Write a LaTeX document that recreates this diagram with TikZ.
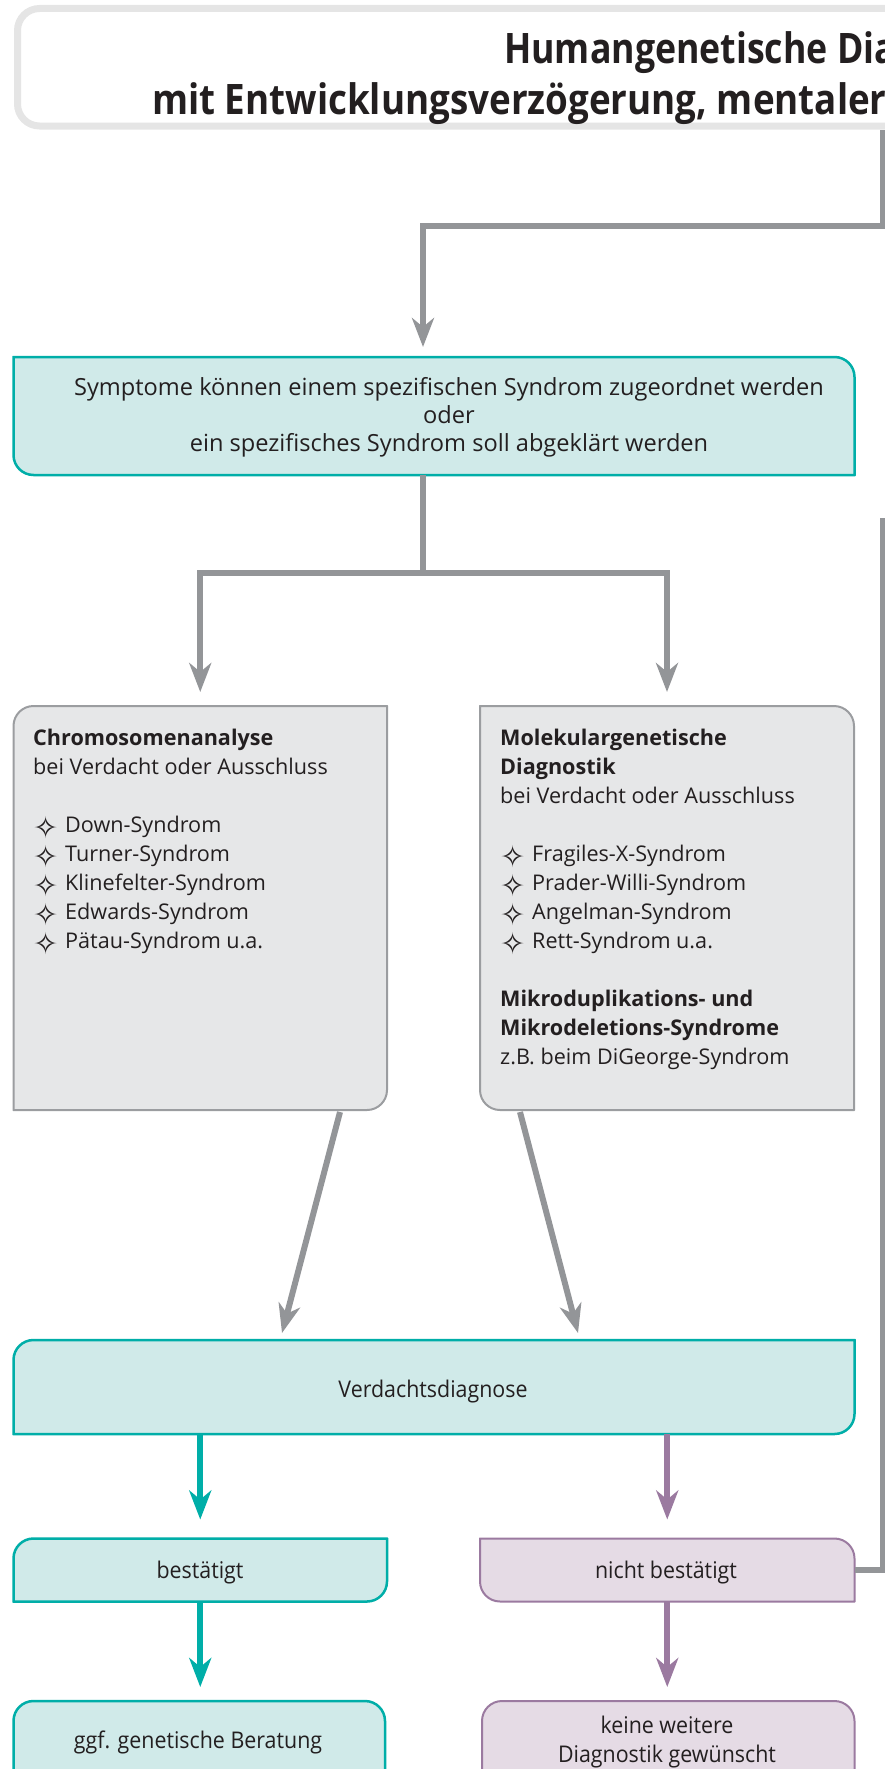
\documentclass[tikz,border=0pt]{standalone}
\usepackage{fontspec}
\setmainfont{Open Sans}
\newfontfamily\condfont[FakeStretch=0.93]{Open Sans}
\newfontfamily\titlefont[FakeStretch=0.875]{Open Sans}
\newfontfamily\titlefonta[FakeStretch=0.85]{Open Sans}
\newfontfamily\symfont{DejaVu Sans}
\usetikzlibrary{arrows.meta,calc,backgrounds}
\definecolor{tealline}{RGB}{0,174,168}
\definecolor{tealfill}{RGB}{208,234,233}
\definecolor{greyline}{RGB}{155,157,160}
\definecolor{greyfill}{RGB}{230,231,232}
\definecolor{purpline}{RGB}{155,122,160}
\definecolor{purpfill}{RGB}{229,219,229}
\definecolor{connc}{RGB}{147,149,152}
\definecolor{titleframe}{RGB}{229,229,229}
\definecolor{txtc}{RGB}{35,31,32}
\newcommand\starbul{\makebox[32pt][l]{\smash{\raisebox{-6pt}{\symfont\fontsize{30}{30}\selectfont ✧}}}}
\newcommand\boxpath[6]{%
  \path[#2] ($(#1.north west)+(0,-#3)$) arc[start angle=180,end angle=90,radius=#3]
   -- ($(#1.north east)+(-#4,0)$) arc[start angle=90,end angle=0,radius=#4]
   -- ($(#1.south east)+(0,#5)$) arc[start angle=0,end angle=-90,radius=#5]
   -- ($(#1.south west)+(#6,0)$) arc[start angle=270,end angle=180,radius=#6]
   -- cycle;}
\tikzset{
  boxnode/.style={rectangle, inner sep=0pt, outer sep=0pt, draw=none},
  titlebox/.style={fill=white, draw=titleframe, line width=7pt},
  tealbox/.style={fill=tealfill, draw=tealline, line width=2.5pt},
  greybox/.style={fill=greyfill, draw=greyline, line width=2pt},
  purpbox/.style={fill=purpfill, draw=purpline, line width=2pt},
  tipstyle/.tip={Stealth[length=29pt,width=22pt,inset=9pt]},
  conn/.style={draw=connc, line width=6pt, -tipstyle},
  connline/.style={draw=connc, line width=6pt},
  tealarr/.style={draw=tealline, line width=6pt, -tipstyle},
  purparr/.style={draw=purpline, line width=6pt, -tipstyle},
  titletxt/.style={inner sep=0pt, text=txtc, font={\titlefont\bfseries\fontsize{42}{50}\selectfont}},
  titletxta/.style={inner sep=0pt, text=txtc, font={\titlefonta\bfseries\fontsize{42}{50}\selectfont}},
  bodytxt/.style={inner sep=0pt, text=txtc, font={\fontsize{21.6}{29}\selectfont}},
  symtxt/.style={inner sep=0pt, text=txtc, font={\fontsize{23.6}{27.5}\selectfont}},
  condtxt/.style={inner sep=0pt, text=txtc, font={\condfont\fontsize{23}{29}\selectfont}}
}
\begin{document}
\begin{tikzpicture}[x=1pt,y=1pt]
\useasboundingbox (0,0) rectangle (885,-1769);
% box nodes
\node[boxnode, minimum width=1082.5pt, minimum height=117.5pt] (title) at (558.75,-67.25) {};
\node[boxnode, minimum width=841pt, minimum height=118pt] (sym) at (434,-416) {};
\node[boxnode, minimum width=373.5pt, minimum height=404pt] (chr) at (200.25,-908) {};
\node[boxnode, minimum width=374pt, minimum height=404pt] (mol) at (667,-908) {};
\node[boxnode, minimum width=841pt, minimum height=94pt] (ver) at (434,-1387) {};
\node[boxnode, minimum width=373.5pt, minimum height=63pt] (bes) at (200.25,-1570) {};
\node[boxnode, minimum width=374.5pt, minimum height=63pt] (nbe) at (667.25,-1570) {};
\node[boxnode, minimum width=371.5pt, minimum height=149pt] (ggf) at (199.25,-1775.5) {};
\node[boxnode, minimum width=372.5pt, minimum height=149pt] (kei) at (668.25,-1775.5) {};
\begin{scope}[on background layer]
  \boxpath{title}{titlebox}{22}{0.01}{0.01}{22}
  \boxpath{sym}{tealbox}{0.01}{20}{0.01}{20}
  \boxpath{chr}{greybox}{20}{0.01}{20}{0.01}
  \boxpath{mol}{greybox}{0.01}{20}{0.01}{20}
  \boxpath{ver}{tealbox}{20}{0.01}{20}{0.01}
  \boxpath{bes}{tealbox}{20}{0.01}{20}{0.01}
  \boxpath{nbe}{purpbox}{0.01}{20}{0.01}{20}
  \boxpath{ggf}{tealbox}{20}{20}{20}{20}
  \boxpath{kei}{purpbox}{20}{20}{20}{20}
\end{scope}
% title text
\node[titletxta, anchor=base west] (t1) at (504,-63.5) {Humangenetische Dia};
\node[titletxt, anchor=base west] (t2) at (152,-114) {mit Entwicklungsverzögerung, mentaler};
% symptom text
\node[symtxt, anchor=base] (s1) at (449,-395) {Symptome können einem spezifischen Syndrom zugeordnet werden};
\node[symtxt, anchor=base] (s2) at (449,-423) {oder};
\node[symtxt, anchor=base] (s3) at (449,-451) {ein spezifisches Syndrom soll abgeklärt werden};
% grey box texts
\node[bodytxt, align=left, anchor=north west] (chrtxt) at (33,-728.6) {\textbf{Chromosomenanalyse}\\bei Verdacht oder Ausschluss\\[29pt]\starbul Down-Syndrom\\\starbul Turner-Syndrom\\\starbul Klinefelter-Syndrom\\\starbul Edwards-Syndrom\\\starbul Pätau-Syndrom u.a.};
\node[bodytxt, align=left, anchor=north west] (moltxt) at (500,-728.6) {\textbf{Molekulargenetische}\\\textbf{Diagnostik}\\bei Verdacht oder Ausschluss\\[29pt]\starbul Fragiles-X-Syndrom\\\starbul Prader-Willi-Syndrom\\\starbul Angelman-Syndrom\\\starbul Rett-Syndrom u.a.\\[29pt]\textbf{Mikroduplikations- und}\\\textbf{Mikrodeletions-Syndrome}\\z.B. beim DiGeorge-Syndrom};
% condensed texts
\node[condtxt, anchor=base] (vtxt) at (433,-1397) {Verdachtsdiagnose};
\node[condtxt, anchor=base] (btxt) at (200,-1578) {bestätigt};
\node[condtxt, anchor=base] (ntxt) at (666,-1578) {nicht bestätigt};
\node[condtxt, anchor=base] (gtxt) at (198,-1748) {ggf. genetische Beratung};
\node[condtxt, anchor=base] (k1) at (667,-1733) {keine weitere};
\node[condtxt, anchor=base] (k2) at (667,-1762) {Diagnostik gewünscht};
% connectors
\coordinate (tc) at ($(title.south west)+(865.5,-4)$);
\draw[conn, shorten >=10pt] (tc) -- ($(tc)+(0,-96)$) -| ($(sym.north)+(-11,0)$);
\coordinate (split) at ($(sym.south)+(-11,-98)$);
\draw[connline] ($(sym.south)+(-11,0)$) -- (split);
\draw[conn, shorten >=14pt] (split) -| (chr.north);
\draw[conn, shorten >=14pt] (split) -| (mol.north);
\draw[conn] ($(chr.south west)+(326.5,-2)$) -- ($(ver.north west)+(268.5,7)$);
\draw[conn] ($(mol.south west)+(40,-2)$) -- ($(ver.north west)+(564.5,7)$);
\draw[tealarr, shorten >=19pt] (ver.south -| bes.north) -- (bes.north);
\draw[tealarr, shorten >=14pt] (bes.south) -- (bes.south |- ggf.north);
\draw[purparr, shorten >=19pt] (ver.south -| nbe.north) -- (nbe.north);
\draw[purparr, shorten >=14pt] (nbe.south) -- (nbe.south |- kei.north);
\coordinate (rc) at (883,-518);
\draw[connline] (nbe.east) -| (rc);
\end{tikzpicture}
\end{document}
